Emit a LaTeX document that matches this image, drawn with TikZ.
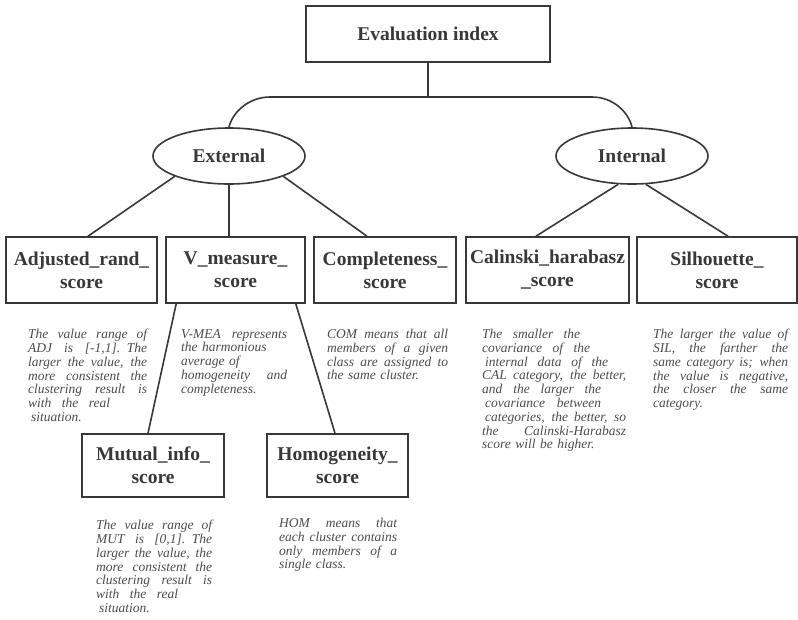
\documentclass[tikz,border=0pt]{standalone}
\usepackage{fontspec}
\setmainfont{Liberation Serif}
\usetikzlibrary{shapes.geometric}
\newcommand{\jl}[2][\hsize]{\leavevmode\hbox to #1{\spaceskip=0.25em plus 1fil\relax#2}\par}
\newcommand{\nl}[1]{\leavevmode\hbox{#1}\par}

\begin{document}
\begin{tikzpicture}[x=1pt,y=-1pt,
	lnk/.style={draw=black!78,line width=1.6pt},
	scorebox/.style={lnk,rectangle,inner sep=0pt,align=center,text=black!78,font=\fontsize{19.5}{23}\selectfont\bfseries},
	kind/.style={lnk,ellipse,inner sep=0pt,minimum width=152pt,minimum height=56pt,text=black!78,font=\fontsize{19.5}{23}\selectfont\bfseries},
	remark/.style={anchor=north west,inner sep=0pt,text=black!70,font=\fontsize{13.5}{13.8}\selectfont\itshape}]
				\useasboundingbox (0,0) rectangle (798,619);
				\node[scorebox,minimum width=244pt,minimum height=56pt] (top) at (428,34) {Evaluation index};
				\node[kind] (ext) at (229,156) {External};
				\node[kind] (int) at (632,156) {Internal};
				\node[scorebox,minimum width=151pt,minimum height=66pt] (adj) at (81.5,270) {Adjusted\_rand\_\\score};
				\node[scorebox,minimum width=139pt,minimum height=66pt] (vme) at (235.5,270) {V\_measure\_\\score};
				\node[scorebox,minimum width=142pt,minimum height=66pt] (com) at (385,270) {Completeness\_\\score};
				\node[scorebox,minimum width=163pt,minimum height=66pt] (cal) at (547.5,270) {Calinski\_harabasz\\\_score};
				\node[scorebox,minimum width=160pt,minimum height=66pt] (sil) at (717,270) {Silhouette\_\\score};
				\node[scorebox,minimum width=142pt,minimum height=63pt] (mut) at (153,465.5) {Mutual\_info\_\\score};
				\node[scorebox,minimum width=141pt,minimum height=63pt] (hom) at (337.5,465.5) {Homogeneity\_\\score};
				\coordinate (bar) at (428,97);
				\coordinate (barL) at (270,97);
				\coordinate (barR) at (592,97);
				\draw[lnk] (top.south) -- (top.south |- bar);
				\draw[lnk] (ext.north) .. controls +(3,-14) and +(-22,0) .. (barL) -- (barR) .. controls +(22,0) and +(-3,-14) .. (int.north);
				\draw[lnk] (ext.south west) -- ([xshift=6.5pt]adj.north);
				\draw[lnk] (ext.south) -- (ext.south |- vme.north);
				\draw[lnk] (ext.south east) -- ([xshift=-18pt]com.north);
				\draw[lnk] (int.244) -- ([xshift=-11.5pt]cal.north);
				\draw[lnk] (int.296) -- ([xshift=11pt]sil.north);
				\draw[lnk] ([xshift=11pt]vme.south west) -- ([xshift=-5pt]mut.north);
				\draw[lnk] ([xshift=-10pt]vme.south east) -- ([xshift=-2.5pt]hom.north);
				\node[remark,text width=119pt] (adjnote) at (28,329) {\jl{The value range of}\jl{ADJ is [-1,1]. The}\jl{larger the value, the}\jl{more consistent the}\jl{clustering result is}\jl[82pt]{with the real}\nl{\kern3pt situation.}};
				\node[remark,text width=106pt] (vmenote) at (181,329) {\jl{V-MEA represents}\nl{the harmonious}\nl{average of}\jl{homogeneity and}\nl{completeness.}};
				\node[remark,text width=121pt] (comnote) at (327,329) {\jl{COM means that all}\jl{members of a given}\jl{class are assigned to}\nl{the same cluster.}};
				\node[remark,text width=144pt] (calnote) at (482,329) {\jl[98pt]{The smaller the}\jl[108pt]{covariance of the}\jl[126pt]{\kern3pt internal data of the}\jl{CAL category, the better,}\jl[119pt]{and the larger the}\jl[119pt]{\kern3pt covariance between}\jl{\kern3pt categories, the better, so}\jl{the Calinski-Harabasz}\nl{score will be higher.}};
				\node[remark,text width=135pt] (silnote) at (653,329) {\jl{The larger the value of}\jl{SIL, the farther the}\jl{same category is; when}\jl{the value is negative,}\jl{the closer the same}\nl{category.}};
				\node[remark,text width=116pt] (mutnote) at (96,520) {\jl{The value range of}\jl{MUT is [0,1]. The}\jl{larger the value, the}\jl{more consistent the}\jl{clustering result is}\jl[82pt]{with the real}\nl{\kern3pt situation.}};
				\node[remark,text width=118pt] (homnote) at (279,518) {\jl{HOM means that}\jl{each cluster contains}\jl{only members of a}\nl{single class.}};
				\end{tikzpicture}
\end{document}
